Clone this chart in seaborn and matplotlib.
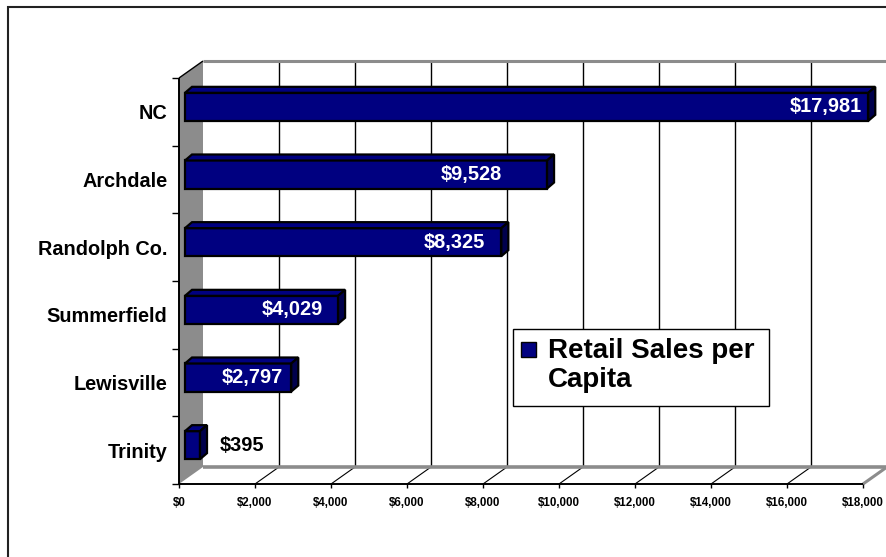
import matplotlib
matplotlib.use("Agg")
import matplotlib.pyplot as plt
import matplotlib.transforms as mtransforms
from matplotlib.patches import Polygon, Rectangle
from matplotlib.lines import Line2D
import seaborn as sns
import pandas as pd

# ---- data ----
places = ["NC", "Archdale", "Randolph Co.", "Summerfield", "Lewisville", "Trinity"]
retail_per_capita = [17981, 9528, 8325, 4029, 2797, 395]
value_labels = ["$17,981", "$9,528", "$8,325", "$4,029", "$2,797", "$395"]
x_ticks = [0, 2000, 4000, 6000, 8000, 10000, 12000, 14000, 16000, 18000]
x_tick_labels = ["$0", "$2,000", "$4,000", "$6,000", "$8,000", "$10,000",
                 "$12,000", "$14,000", "$16,000", "$18,000"]
series_name = "Retail Sales per\nCapita"

# horizontal nudge of each value label from the bar end, in pixels
label_nudge_px = [-6, -45, -16, -15, -8, 20]

sns.set_style("white")
plt.rcParams["font.family"] = ["Liberation Sans", "DejaVu Sans"]
plt.rcParams["font.weight"] = "bold"
plt.rcParams["text.color"] = "black"
plt.rcParams["xtick.color"] = "black"
plt.rcParams["ytick.color"] = "black"
plt.rcParams["xtick.labelcolor"] = "black"
plt.rcParams["ytick.labelcolor"] = "black"

W, H = 886, 557
DPI = 100
fig = plt.figure(figsize=(W / DPI, H / DPI), dpi=DPI)
fig.patch.set_facecolor("white")

# front plane of the plot, in pixels from the top-left corner
L, R, T, B = 179, 863, 78, 484
ax = fig.add_axes([L / W, 1 - B / H, (R - L) / W, (B - T) / H])
ax.patch.set_visible(False)

df = pd.DataFrame({"place": places, "value": retail_per_capita})
sns.barplot(data=df, x="value", y="place", order=places, orient="h",
            color="#000080", saturation=1, width=0.414,
            edgecolor="black", linewidth=1.6, ax=ax)

ax.set_xlim(0, 18000)
ax.set_ylim(5.5, -0.5)
ax.set_xlabel("")
ax.set_ylabel("")
for sp in ax.spines.values():
    sp.set_visible(False)

ax.set_xticks(x_ticks, labels=x_tick_labels)
ax.set_yticks(range(len(places)), labels=places)
ax.set_yticks([i - 0.5 for i in range(len(places) + 1)], minor=True)
ax.tick_params(axis="x", bottom=True, direction="out", length=3, width=1,
               color="black", labelcolor="black", labelsize=8.3, pad=6.5)
ax.tick_params(axis="y", which="major", left=False, labelcolor="black",
               labelsize=14.3, pad=5)
ax.tick_params(axis="y", which="minor", left=True, direction="out",
               length=5, width=1, color="black")
for lab in ax.get_xticklabels() + ax.get_yticklabels():
    lab.set_fontweight("bold")
    lab.set_color("black")

ident = mtransforms.IdentityTransform()

# depth offsets in pixels (right, up)
WALL = (24, 17)
BAR_FRONT = (6, 5)
BAR_DEPTH = (7, 6)

fig.canvas.draw()


def disp(x, y):
    return ax.transData.transform((x, y))


x0d, y_bot = disp(0, 5.5)
x1d, y_top = disp(18000, -0.5)
wx, wy = WALL


def add_poly(pts, fc, ec="none", lw=0, z=0.1):
    ax.add_patch(Polygon(pts, closed=True, facecolor=fc, edgecolor=ec,
                         linewidth=lw, transform=ident, clip_on=False, zorder=z))


def add_line(p, q, color="black", lw=1.0, z=0.3):
    ax.add_line(Line2D([p[0], q[0]], [p[1], q[1]], color=color, linewidth=lw,
                       transform=ident, clip_on=False, zorder=z,
                       solid_capstyle="butt"))


# back wall
add_poly([(x0d + wx, y_bot + wy), (x1d + wx, y_bot + wy),
          (x1d + wx, y_top + wy), (x0d + wx, y_top + wy)], "white", z=0.05)
# floor
add_poly([(x0d, y_bot), (x1d, y_bot), (x1d + wx, y_bot + wy),
          (x0d + wx, y_bot + wy)], "white", z=0.06)

for t in x_ticks[1:]:
    xd = disp(t, 0)[0]
    add_line((xd + wx, y_bot + wy), (xd + wx, y_top + wy), lw=1.0, z=0.2)
    add_line((xd, y_bot), (xd + wx, y_bot + wy), lw=0.8, z=0.2)

add_line((x0d + wx, y_top + wy), (x1d + wx, y_top + wy), color="#8c8c8c", lw=2.2, z=0.25)
add_line((x0d + wx, y_bot + wy), (x1d + wx, y_bot + wy), color="#8c8c8c", lw=2.6, z=0.25)
add_line((x1d, y_bot), (x1d + wx, y_bot + wy), color="#8c8c8c", lw=2.2, z=0.25)

# left wall
add_poly([(x0d, y_bot), (x0d, y_top), (x0d + wx, y_top + wy),
          (x0d + wx, y_bot + wy)], "#8c8c8c", z=0.3)
add_line((x0d, y_bot), (x0d, y_top), lw=1.4, z=0.35)
add_line((x0d, y_top), (x0d + wx, y_top + wy), lw=1.0, z=0.35)
# front axis line
add_line((x0d, y_bot), (x1d, y_bot), lw=1.4, z=0.35)

# bars: shift the front faces forward, then add top and end faces
bx, by = BAR_FRONT
dx, dy = BAR_DEPTH
shift = mtransforms.ScaledTranslation(bx / DPI, by / DPI, fig.dpi_scale_trans)
bars = [p for p in ax.patches if isinstance(p, Rectangle)][: len(places)]
for i, bar in enumerate(bars):
    bar.set_transform(ax.transData + shift)
    bar.set_zorder(2 + i * 0.01)
    bar.set_clip_on(False)
    ext = bar.get_window_extent(renderer=fig.canvas.get_renderer())
    fx0, fy0, fx1, fy1 = ext.x0, ext.y0, ext.x1, ext.y1
    z = 2 + i * 0.01 + 0.005
    add_poly([(fx0, fy1), (fx1, fy1), (fx1 + dx, fy1 + dy), (fx0 + dx, fy1 + dy)],
             "#000080", ec="black", lw=1.6, z=z)
    add_poly([(fx1, fy0), (fx1, fy1), (fx1 + dx, fy1 + dy), (fx1 + dx, fy0 + dy)],
             "#00004c", ec="black", lw=1.6, z=z)

    cy = (fy0 + fy1) / 2
    nudge = label_nudge_px[i]
    inside = nudge < 0
    ax.text(fx1 + nudge, cy, value_labels[i], transform=ident,
            ha="right" if inside else "left", va="center",
            color="white" if inside else "black", fontsize=14.4,
            fontweight="bold", zorder=4, clip_on=False)

# legend box
lx0, ly0, lx1, ly1 = 513, H - 406, 769, H - 329
ax.add_patch(Rectangle((lx0, ly0), lx1 - lx0, ly1 - ly0, facecolor="white",
                       edgecolor="black", linewidth=1.0, transform=ident,
                       clip_on=False, zorder=5))
ax.add_patch(Rectangle((521, H - 357), 15, 15, facecolor="#000080",
                       edgecolor="black", linewidth=1.0, transform=ident,
                       clip_on=False, zorder=6))
ax.text(548, H - 338, series_name, transform=ident, ha="left", va="top",
        fontsize=20, fontweight="bold", linespacing=1.15, color="black",
        zorder=6, clip_on=False)

# chart frame
fig.add_artist(Rectangle((8, -20), 900, H - 7 + 20, facecolor="none",
                         edgecolor="#222222", linewidth=1.5, transform=ident))

fig.savefig("out.png", dpi=DPI, facecolor="white")
